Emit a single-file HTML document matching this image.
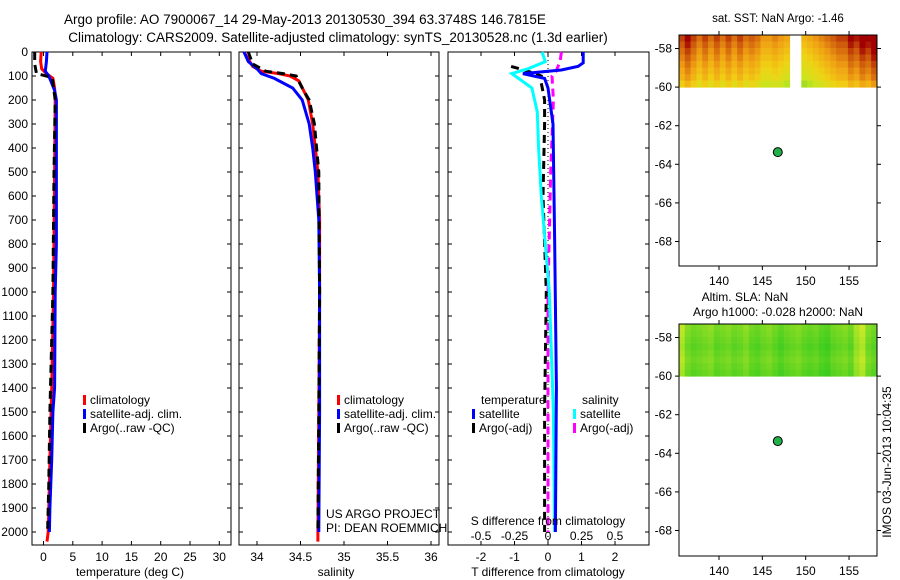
<!DOCTYPE html>
<html><head><meta charset="utf-8"><style>
html,body{margin:0;padding:0;background:#fff}
svg{display:block;font-family:"Liberation Sans",sans-serif}
text{font-size:12px;fill:#000}
</style></head><body>
<svg id="fig" width="900" height="580" viewBox="0 0 900 580" xmlns="http://www.w3.org/2000/svg">
<text x="305" y="24" text-anchor="middle" style="font-size:13.5px">Argo profile: AO 7900067_14 29-May-2013 20130530_394 63.3748S 146.7815E</text>
<text x="338" y="42" text-anchor="middle" style="font-size:13.5px">Climatology: CARS2009. Satellite-adjusted climatology: synTS_20130528.nc (1.3d earlier)</text>
<g id="g"></g>
</svg>
<script>
// ---------- data ----------
const depthTicks=[0,100,200,300,400,500,600,700,800,900,1000,1100,1200,1300,1400,1500,1600,1700,1800,1900,2000];
const tTicks=[0,5,10,15,20,25,30];
const sTicks=[34,34.5,35,35.5,36];
const dTTicks=[-2,-1,0,1,2];
const dSTicks=[-0.5,-0.25,0,0.25,0.5];
const dSTickLabels=["-0.5","-0.25","0","0.25","0.5"];
const latTicks=[-58,-60,-62,-64,-66,-68];
const lonTicks=[140,145,150,155];

const tClimDepth=[0,40,70,90,110,150,200,500,1000,1400,1500,1700,1900,2000,2040];
const tClimVal=[-0.4,-0.5,-0.3,0.5,1.6,1.9,2.0,1.9,1.7,1.4,1.3,1.1,0.9,0.8,0.6];
const tSatDepth=[0,40,80,100,130,160,200,500,800,1000,1400,1500,1700,1900,2000];
const tSatVal=[0.6,0.5,0.3,0.9,1.4,1.9,2.2,2.2,2.2,2.0,1.9,1.6,1.4,1.1,1.0];
const tArgoDepth=[0,50,90,100,110,200,500,1000,1500,1800,2000];
const tArgoVal=[-1.5,-1.5,-1.2,0.5,1.5,2.0,1.8,1.6,1.1,0.9,0.7];

const sClimDepth=[0,30,60,80,90,100,120,200,300,500,700,1000,1500,2000,2040];
const sClimVal=[33.85,33.9,33.95,34.05,34.25,34.38,34.48,34.59,34.64,34.70,34.72,34.72,34.71,34.70,34.70];
const sSatDepth=[0,40,70,90,110,150,200,300,400,500,700,1000,1500,2000];
const sSatVal=[33.85,33.9,34.0,34.05,34.2,34.41,34.52,34.6,34.64,34.67,34.71,34.72,34.72,34.71];
const sArgoDepth=[0,50,80,90,100,150,200,300,500,1000,1500,2000];
const sArgoVal=[33.9,33.95,34.1,34.3,34.45,34.52,34.6,34.66,34.71,34.72,34.71,34.70];

const dTSatDepth=[0,45,60,75,90,110,150,300,800,1400,2000];
const dTSatVal=[1.05,1.05,0.9,0.4,-0.75,-0.1,0.0,0.15,0.2,0.25,0.22];
const dSSatDepth=[0,40,70,90,110,150,250,400,600,1000,1500,2000];
const dSSatVal=[-0.045,-0.02,-0.15,-0.27,-0.22,-0.12,-0.08,-0.07,-0.05,0.01,0.04,0.05];
const dSArgoDepth=[0,40,80,100,200,500,1000,2000];
const dSArgoVal=[0.1,0.09,0.06,0.03,0.04,0.02,0.0,0.0];
const dTArgoDepth=[60,80,100,130,200,300,600,1000,1500,2000];
const dTArgoVal=[-1.1,-0.6,-0.2,-0.2,-0.1,-0.1,-0.15,-0.05,-0.1,-0.1];

const argoLon=146.78, argoLat=-63.37;
const sstCols=[0.6,0.7,0.6,0.5,0.6,0.5,0.6,0.5,0.6,0.5,0.6,0.5,0.55,0.5,0.4,0.4,0.45,0.4,0.35,null,null,0.3,0.35,0.4,0.45,0.5,0.55,0.6,0.6,0.7,0.65,0.75,0.7,0.8];
const sstRows=[0.2,0.15,0.1,0.05,0.0,-0.05,-0.1,-0.2];
const slaCols=[0.7,0.4,0.3,0.35,0.4,0.45,0.3,0.35,0.4,0.3,0.35,0.45,0.3,0.25,0.35,0.4,0.3,0.2,0.3,0.35,0.4,0.3,0.25,0.3,0.2,0.15,0.3,0.35,0.4,0.3,0.6,0.75,0.4,0.3];
const slaRows=[0.1,0.05,0.0,-0.05,0.0,0.05,0.0,-0.05];

// ---------- helpers ----------
const NS="http://www.w3.org/2000/svg";
const G=document.getElementById('g');
function el(tag,attrs,txt){const e=document.createElementNS(NS,tag);for(const k in attrs)e.setAttribute(k,attrs[k]);if(txt!==undefined)e.textContent=txt;G.appendChild(e);return e;}
const yD=d=>52+d*0.24;

function frame(x0,x1,y0,y1,name){
  const r=el('rect',{x:x0,y:y0,width:x1-x0,height:y1-y0,fill:'none',stroke:'#000','stroke-width':1});
  
  
}
function xTicks(x0,x1,y0,y1,vals,fx,labels,ly,name){
  vals.forEach((v,i)=>{const x=fx(v);
    el('line',{x1:x,x2:x,y1:y1,y2:y1-4,stroke:'#000'});
    el('line',{x1:x,x2:x,y1:y0,y2:y0+4,stroke:'#000'});
    if(labels){const t=el('text',{x:x,y:ly,'text-anchor':'middle'},labels[i]);
      
      }
  });
}
function yTicksDepth(x0,x1,lab){
  depthTicks.forEach(d=>{const y=yD(d);
    el('line',{x1:x0,x2:x0+4,y1:y,y2:y,stroke:'#000'});
    el('line',{x1:x1,x2:x1-4,y1:y,y2:y,stroke:'#000'});
    if(lab){const t=el('text',{x:28,y:y+4,'text-anchor':'end'},String(d));
      
      }
  });
}
function line(ds,vs,fx,color,w,dash,name){
  const pts=ds.map((d,i)=>fx(vs[i]).toFixed(1)+','+yD(d).toFixed(1)).join(' ');
  const a={points:pts,fill:'none',stroke:color,'stroke-width':w};
  if(dash)a['stroke-dasharray']=dash;
  const p=el('polyline',a);
  
  
}
function legend(x,y,color,label,name){
  el('rect',{x:x,y:y-9,width:3,height:10,fill:color});
  const t=el('text',{x:x+7,y:y},label);
  
  
}

// ---------- panel 1: temperature ----------
const fT=v=>43.5+v*5.86;
frame(32,231,52,545,'temperature-panel');
yTicksDepth(32,231,true);
xTicks(32,231,52,545,tTicks,fT,tTicks.map(String),561,'temperature-tick-label');
line(tClimDepth,tClimVal,fT,'#ff0000',3,null,'temp-climatology-line');
line(tSatDepth,tSatVal,fT,'#0000ff',3,null,'temp-satellite-line');
line(tArgoDepth,tArgoVal,fT,'#000',3,'8,5','temp-argo-line');
let t=el('text',{x:130,y:576,'text-anchor':'middle'},'temperature (deg C)');


legend(83,404,'#f00','climatology','legend-climatology');
legend(83,418,'#00f','satellite-adj. clim.','legend-satellite');
legend(83,432,'#000','Argo(..raw -QC)','legend-argo');

// ---------- panel 2: salinity ----------
const fS=v=>257+(v-34)*87;
frame(239,439,52,545,'salinity-panel');
yTicksDepth(239,439,false);
xTicks(239,439,52,545,sTicks,fS,sTicks.map(String),561,'salinity-tick-label');
line(sClimDepth,sClimVal,fS,'#ff0000',3,null,'sal-climatology-line');
line(sSatDepth,sSatVal,fS,'#0000ff',3,null,'sal-satellite-line');
line(sArgoDepth,sArgoVal,fS,'#000',3,'8,5','sal-argo-line');
t=el('text',{x:336,y:576,'text-anchor':'middle'},'salinity');


legend(337,404,'#f00','climatology','legend-climatology-2');
legend(337,418,'#00f','satellite-adj. clim.','legend-satellite-2');
legend(337,432,'#000','Argo(..raw -QC)','legend-argo-2');
t=el('text',{x:326,y:518},'US ARGO PROJECT');


t=el('text',{x:326,y:532},'PI: DEAN ROEMMICH');



// ---------- panel 3: differences ----------
const fdT=v=>548+v*33.5;
const fdS=v=>548+v*134;
frame(448,649,52,545,'difference-panel');
yTicksDepth(448,649,false);
xTicks(448,649,52,545,dTTicks,fdT,dTTicks.map(String),561,'dT-tick-label');
el('line',{x1:548,x2:548,y1:52,y2:545,stroke:'#000','stroke-dasharray':'1,3'});
dSTicks.forEach((v,i)=>{const tt=el('text',{x:fdS(v),y:540,'text-anchor':'middle'},dSTickLabels[i]);
  
  });
line(dTArgoDepth,dTArgoVal,fdT,'#000',3,'8,5','dT-argo-line');
line(dSArgoDepth,dSArgoVal,fdS,'#ff00ff',3,'8,5','dS-argo-line');
line(dSSatDepth,dSSatVal,fdS,'#00ffff',3,null,'dS-satellite-line');
line(dTSatDepth,dTSatVal,fdT,'#0000ff',3,null,'dT-satellite-line');
t=el('text',{x:481,y:404},'temperature');


t=el('text',{x:582,y:404},'salinity');


legend(472,418,'#00f','satellite','legend-dT-satellite');
legend(472,432,'#000','Argo(-adj)','legend-dT-argo');
legend(573,418,'#0ff','satellite','legend-dS-satellite');
legend(573,432,'#f0f','Argo(-adj)','legend-dS-argo');
t=el('text',{x:548,y:525,'text-anchor':'middle'},'S difference from climatology');


t=el('text',{x:548,y:576,'text-anchor':'middle'},'T difference from climatology');



// ---------- maps ----------
const fLon=v=>719+(v-140)*8.67;
function sstColor(v){
  v+=0.12;
  const stops=[[0,[60,200,40]],[0.3,[200,230,30]],[0.5,[240,210,20]],[0.7,[240,160,20]],[0.9,[200,80,10]],[1,[160,0,0]]];
  v=Math.max(0,Math.min(1,v));
  for(let i=1;i<stops.length;i++){if(v<=stops[i][0]){const a=stops[i-1],b=stops[i],f=(v-a[0])/(b[0]-a[0]);
    return 'rgb('+a[1].map((c,j)=>Math.round(c+(b[1][j]-c)*f)).join(',')+')';}}
}
function slaColor(v){
  v=Math.max(0,Math.min(1,v));
  const g=[40,200,30],y=[230,240,40],f=v;
  return 'rgb('+g.map((c,j)=>Math.round(c+(y[j]-c)*f)).join(',')+')';
}
function map(top,bottom,cols,rows,colorFn,name){
  const fLat=v=>top+13.5+(-58-v)*19.3;
  const yTop=fLat(-57.3), yBot=fLat(-60);
  const cw=(877-679)/cols.length, rh=(yBot-yTop)/rows.length;
  cols.forEach((c,i)=>{rows.forEach((r,j)=>{
    if(c===null) return;
    const cell=el('rect',{x:(679+i*cw).toFixed(1),y:(yTop+j*rh).toFixed(1),width:(cw+0.5).toFixed(1),height:(rh+0.5).toFixed(1),fill:colorFn(c+r)});
    
    
  });});
  frame(679,877,top,bottom,name);
  latTicks.forEach(v=>{const y=fLat(v);
    el('line',{x1:679,x2:675,y1:y,y2:y,stroke:'#000'});
    el('line',{x1:877,x2:881,y1:y,y2:y,stroke:'#000'});
    const tt=el('text',{x:672,y:y+4,'text-anchor':'end'},String(v));
    
    });
  lonTicks.forEach(v=>{const x=fLon(v);
    el('line',{x1:x,x2:x,y1:bottom,y2:bottom+4,stroke:'#000'});
    el('line',{x1:x,x2:x,y1:top,y2:top-4,stroke:'#000'});
    const tt=el('text',{x:x,y:bottom+19,'text-anchor':'middle'},String(v));
    
    });
  const dot=el('circle',{cx:fLon(argoLon),cy:fLat(argoLat),r:4.5,fill:'#22b04a',stroke:'#000','stroke-width':1});
  
  
}
map(35,266,sstCols,sstRows,sstColor,'sst-map');
map(324,556,slaCols,slaRows,slaColor,'sla-map');
t=el('text',{x:778,y:22,'text-anchor':'middle',style:'font-size:11.5px'},'sat. SST: NaN Argo: -1.46');


t=el('text',{x:745,y:301,'text-anchor':'middle'},'Altim. SLA: NaN');


t=el('text',{x:778,y:316,'text-anchor':'middle'},'Argo h1000: -0.028 h2000: NaN');


t=el('text',{x:0,y:0,transform:'translate(891,462) rotate(-90)','text-anchor':'middle'},'IMOS 03-Jun-2013 10:04:35');


</script>
</body></html>
